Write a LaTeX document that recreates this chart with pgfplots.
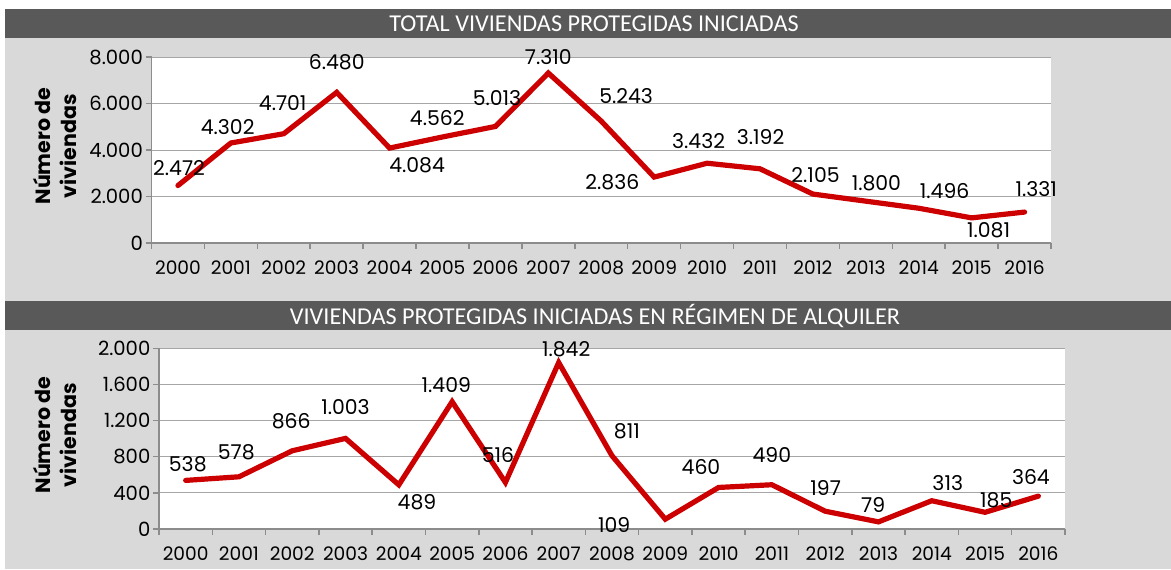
\documentclass[border=0pt]{standalone}
\usepackage{fontspec}
\setmainfont{Poppins}
\newfontfamily\titlefont{Carlito}
\usepackage{pgfplots}
\pgfplotsset{compat=1.18}
\definecolor{bggray}{HTML}{D9D9D9}
\definecolor{bargray}{HTML}{595959}
\definecolor{axisgray}{HTML}{8C8C8C}
\definecolor{gridgray}{HTML}{A6A6A6}
\definecolor{linered}{HTML}{CC0000}
\pgfplotsset{
  panel/.style={
    anchor=south west, scale only axis,
    xmin=-0.5, xmax=16.5, ymin=0,
    axis x line*=bottom, axis y line*=left,
    axis line style={-, draw=axisgray, line width=0.75pt},
    ymajorgrids, grid style={draw=gridgray, line width=0.5pt},
    axis background/.style={fill=white},
    xtick={0,...,16},
    xticklabels={2000,2001,2002,2003,2004,2005,2006,2007,2008,2009,2010,2011,2012,2013,2014,2015,2016},
    major x tick style={draw=none},
    minor xtick={-0.5,0.5,...,16.5},
    minor x tick style={draw=axisgray, line width=0.75pt},
    minor tick length=2.75pt,
    major tick length=3pt,
    tick align=outside,
    ytick style={draw=axisgray, line width=0.75pt},
    yticklabel style={font=\fontsize{9.8}{11}\selectfont, text=black, xshift=2.2pt},
    xticklabel style={font=\fontsize{9.3}{11}\selectfont, text=black, yshift=-2.2pt},
    /pgf/number format/.cd, use comma, 1000 sep={.}, assume math mode=true,
    /pgfplots/.cd,
    scaled y ticks=false,
    clip=false,
  },
}
\tikzset{lbl/.style={font=\fontsize{10.2}{11}\selectfont, inner sep=0pt, anchor=center}}
\begin{document}
\begin{tikzpicture}
\path[use as bounding box, fill=white] (0pt,0pt) rectangle (585.5pt,-284.5pt);
\fill[bggray] (2.5pt,-4.5pt) rectangle (585.5pt,-284.5pt);
\fill[bargray] (2.5pt,-4.5pt) rectangle (585.5pt,-18.8pt);
\fill[bargray] (2.5pt,-150.3pt) rectangle (585.5pt,-165pt);
\node[text=white, font=\titlefont\fontsize{12.1}{13}\selectfont, inner sep=0pt] at (297pt,-11.8pt) {TOTAL VIVIENDAS PROTEGIDAS INICIADAS};
\node[text=white, font=\titlefont\fontsize{12.1}{13}\selectfont, inner sep=0pt] at (297.5pt,-157.8pt) {VIVIENDAS PROTEGIDAS INICIADAS EN RÉGIMEN DE ALQUILER};
\node[rotate=90, align=center, font=\bfseries\fontsize{10.3}{13}\selectfont, inner sep=0pt] at (27.5pt,-73pt) {Número de\\viviendas};
\node[rotate=90, align=center, font=\bfseries\fontsize{10.3}{13}\selectfont, inner sep=0pt] at (27.5pt,-217.5pt) {Número de\\viviendas};

\begin{axis}[panel, at={(75.75pt,-121.5pt)}, width=449.75pt, height=93pt,
  ymax=8000, ytick={0,2000,4000,6000,8000}]
\addplot[draw=linered, line width=2.6pt, line cap=round, line join=miter] coordinates {
(0,2472) (1,4302) (2,4701) (3,6480) (4,4084) (5,4562) (6,5013) (7,7310) (8,5243)
(9,2836) (10,3432) (11,3192) (12,2105) (13,1800) (14,1496) (15,1081) (16,1331)};
\node[lbl] at (axis cs:0.02,3226) {2.472};
\node[lbl] at (axis cs:0.94,5002) {4.302};
\node[lbl] at (axis cs:1.98,6034) {4.701};
\node[lbl] at (axis cs:3.00,7797) {6.480};
\node[lbl] at (axis cs:4.52,3355) {4.084};
\node[lbl] at (axis cs:4.90,5363) {4.562};
\node[lbl] at (axis cs:6.03,6222) {5.013};
\node[lbl] at (axis cs:7.00,8012) {7.310};
\node[lbl] at (axis cs:8.47,6322) {5.243};
\node[lbl] at (axis cs:8.21,2636) {2.836};
\node[lbl] at (axis cs:9.84,4400) {3.432};
\node[lbl] at (axis cs:11.01,4572) {3.192};
\node[lbl] at (axis cs:12.05,2924) {2.105};
\node[lbl] at (axis cs:13.20,2567) {1.800};
\node[lbl] at (axis cs:14.49,2249) {1.496};
\node[lbl] at (axis cs:15.32,529) {1.081};
\node[lbl] at (axis cs:16.22,2322) {1.331};
\end{axis}

\begin{axis}[panel, at={(79.5pt,-264.5pt)}, width=453pt, height=90.35pt,
  ymax=2000, ytick={0,400,800,1200,1600,2000}]
\addplot[draw=linered, line width=2.6pt, line cap=round, line join=miter] coordinates {
(0,538) (1,578) (2,866) (3,1003) (4,489) (5,1409) (6,516) (7,1842) (8,811)
(9,109) (10,460) (11,490) (12,197) (13,79) (14,313) (15,185) (16,364)};
\node[lbl] at (axis cs:0.04,720) {538};
\node[lbl] at (axis cs:0.95,849) {578};
\node[lbl] at (axis cs:1.98,1196) {866};
\node[lbl] at (axis cs:3.00,1347) {1.003};
\node[lbl] at (axis cs:4.34,302) {489};
\node[lbl] at (axis cs:4.89,1594) {1.409};
\node[lbl] at (axis cs:5.86,819) {516};
\node[lbl] at (axis cs:7.14,1989) {1.842};
\node[lbl] at (axis cs:8.28,1077) {811};
\node[lbl] at (axis cs:8.04,44) {109};
\node[lbl] at (axis cs:9.67,690) {460};
\node[lbl] at (axis cs:11.00,819) {490};
\node[lbl] at (axis cs:12.01,450) {197};
\node[lbl] at (axis cs:12.90,266) {79};
\node[lbl] at (axis cs:14.30,506) {313};
\node[lbl] at (axis cs:15.21,321) {185};
\node[lbl] at (axis cs:15.86,579) {364};
\end{axis}
\end{tikzpicture}
\end{document}
